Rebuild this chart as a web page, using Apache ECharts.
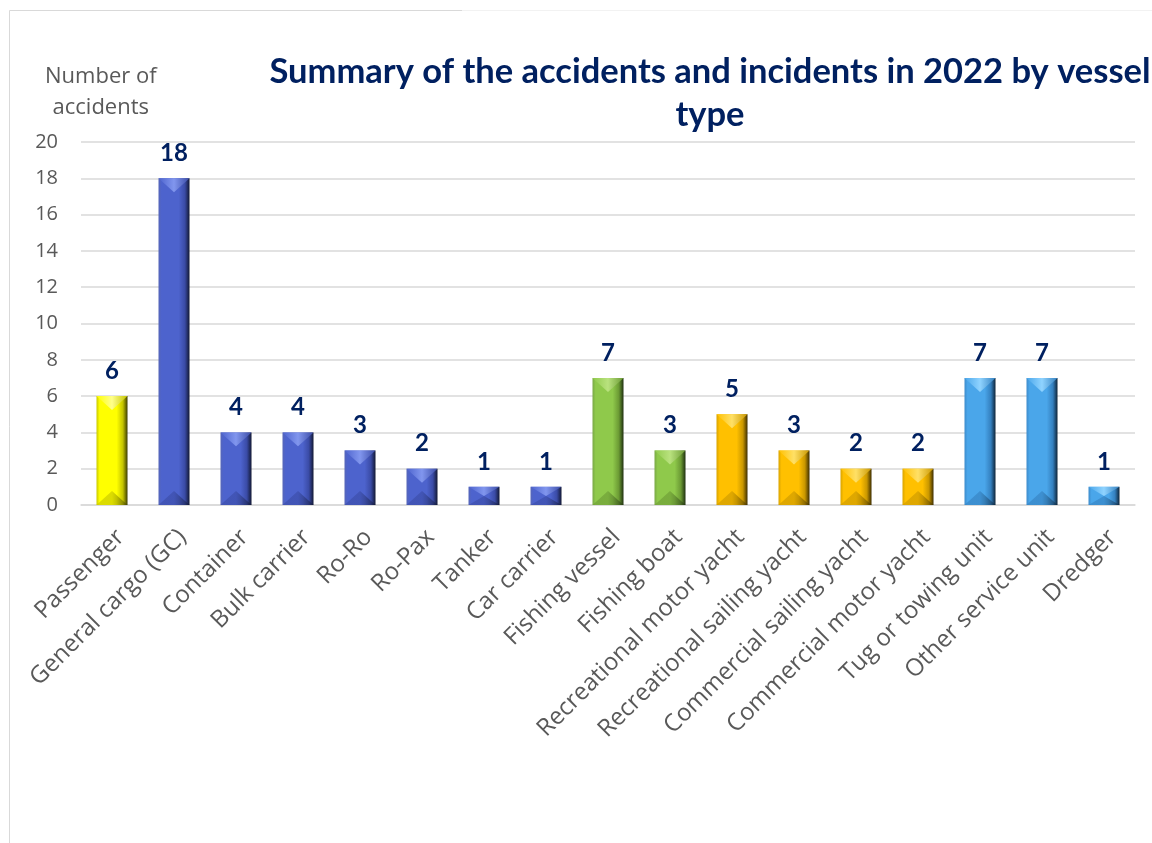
<!DOCTYPE html>
<html>
<head>
<meta charset="utf-8">
<title>Summary of the accidents and incidents in 2022 by vessel type</title>
<script src="https://cdn.jsdelivr.net/npm/echarts@6/dist/echarts.min.js"></script>
<style>
  html, body { margin: 0; padding: 0; background: #ffffff; }
  #chart { width: 1152px; height: 843px; }
</style>
</head>
<body>
<div id="chart"></div>
<script>
// Vessel types, number of accidents per type, and the family each type belongs to
const categories = [
  'Passenger', 'General cargo (GC)', 'Container', 'Bulk carrier', 'Ro-Ro', 'Ro-Pax',
  'Tanker', 'Car carrier', 'Fishing vessel', 'Fishing boat', 'Recreational motor yacht',
  'Recreational sailing yacht', 'Commercial sailing yacht', 'Commercial motor yacht',
  'Tug or towing unit', 'Other service unit', 'Dredger'
];
const accidents = [6, 18, 4, 4, 3, 2, 1, 1, 7, 3, 5, 3, 2, 2, 7, 7, 1];
const vesselFamily = [
  'passenger', 'cargo', 'cargo', 'cargo', 'cargo', 'cargo', 'cargo', 'cargo',
  'fishing', 'fishing', 'yacht', 'yacht', 'yacht', 'yacht',
  'service', 'service', 'service'
];
const yMin = 0, yMax = 20, yStep = 2;

// Bevelled bar colours per vessel family
const palette = {
  passenger: { edge: '#c9c900', light: '#ffff8a', base: '#ffff00', shade: '#c4c400', dark: '#3c3c00' },
  cargo:     { edge: '#5666b8', light: '#8196ee', base: '#4d63cd', shade: '#3a4ba6', dark: '#121833' },
  fishing:   { edge: '#79a846', light: '#b9e27e', base: '#8fc94b', shade: '#6b9a34', dark: '#1f3010' },
  yacht:     { edge: '#d9a400', light: '#ffe066', base: '#ffc000', shade: '#c99700', dark: '#3d2e00' },
  service:   { edge: '#3d8ccc', light: '#8fd3ff', base: '#4aa6ea', shade: '#3480bf', dark: '#0e2438' }
};

function hGrad(p) {
  return new echarts.graphic.LinearGradient(0, 0, 1, 0, [
    { offset: 0, color: p.edge },
    { offset: 0.1, color: p.base },
    { offset: 0.65, color: p.base },
    { offset: 0.85, color: p.shade },
    { offset: 1, color: p.dark }
  ]);
}

function renderBevelBar(params, api) {
  const idx = api.value(0);
  const val = api.value(1);
  const topPt = api.coord([idx, val]);
  const basePt = api.coord([idx, 0]);
  const w = api.size([1, 0])[0] * 0.5;
  const cx = topPt[0];
  const x0 = cx - w / 2, x1 = cx + w / 2;
  const yT = topPt[1], yB = basePt[1];
  const h = yB - yT;
  const d = Math.min(w * 0.45, h / 2);
  const p = palette[vesselFamily[idx]];
  return {
    type: 'group',
    children: [
      { type: 'rect', shape: { x: x0, y: yT, width: w, height: h }, style: { fill: hGrad(p) } },
      {
        type: 'polygon',
        shape: { points: [[x0, yT], [x1, yT], [cx, yT + d]] },
        style: {
          fill: new echarts.graphic.LinearGradient(0, 0, 1, 0, [
            { offset: 0, color: p.base },
            { offset: 0.5, color: p.light },
            { offset: 1, color: p.shade }
          ])
        }
      },
      {
        type: 'polygon',
        shape: { points: [[x0, yB], [x1, yB], [cx, yB - d]] },
        style: {
          fill: new echarts.graphic.LinearGradient(0, 0, 1, 0, [
            { offset: 0, color: p.shade },
            { offset: 0.5, color: p.shade },
            { offset: 1, color: p.dark }
          ]),
          opacity: 0.6
        }
      },
      {
        type: 'text',
        style: {
          text: String(val),
          x: cx, y: yT - 13,
          align: 'center', verticalAlign: 'bottom',
          font: 'bold 24px Lato, sans-serif',
          fill: '#002060'
        }
      }
    ]
  };
}

const chart = echarts.init(document.getElementById('chart'), null, { renderer: 'canvas' });

chart.setOption({
  animation: false,
  backgroundColor: '#ffffff',
  title: {
    text: 'Summary of the accidents and incidents in 2022 by vessel\ntype',
    left: 705, top: 45,
    textAlign: 'center',
    textStyle: {
      fontFamily: 'Lato, sans-serif', fontWeight: 'bold', fontSize: 34.5,
      color: '#002060', lineHeight: 43
    }
  },
  graphic: [
    { type: 'line', shape: { x1: 9.5, y1: 10.5, x2: 9.5, y2: 843 }, style: { stroke: '#d9d9d9', lineWidth: 1 } },
    { type: 'line', shape: { x1: 9.5, y1: 10.5, x2: 462, y2: 10.5 }, style: { stroke: '#d9d9d9', lineWidth: 1 } },
    { type: 'line', shape: { x1: 462, y1: 10.5, x2: 1152, y2: 10.5 }, style: { stroke: '#f2f2f2', lineWidth: 1 } },
    {
      type: 'text', left: 45, top: 61,
      style: {
        text: 'Number of\naccidents', textAlign: 'center',
        font: '22px "Open Sans", sans-serif', fill: '#595959', lineHeight: 31
      }
    }
  ],
  grid: { left: 81, right: 17, top: 142, bottom: 338 },
  xAxis: {
    type: 'category',
    data: categories,
    axisLine: { show: true, lineStyle: { color: '#d9d9d9', width: 1.5 } },
    axisTick: { show: false },
    axisLabel: {
      interval: 0, rotate: 45, margin: 20,
      align: 'right', verticalAlign: 'top',
      fontFamily: 'Open Sans', fontSize: 24, color: '#595959'
    }
  },
  yAxis: {
    type: 'value',
    min: yMin, max: yMax, interval: yStep,
    axisLine: { show: false },
    axisTick: { show: false },
    splitLine: { lineStyle: { color: '#d9d9d9', width: 1.5 } },
    axisLabel: {
      margin: 23,
      fontFamily: 'Open Sans', fontSize: 20, color: '#595959'
    }
  },
  series: [{
    type: 'custom',
    renderItem: renderBevelBar,
    encode: { x: 0, y: 1 },
    data: accidents.map((v, i) => [i, v]),
    clip: false
  }]
});
</script>
</body>
</html>
